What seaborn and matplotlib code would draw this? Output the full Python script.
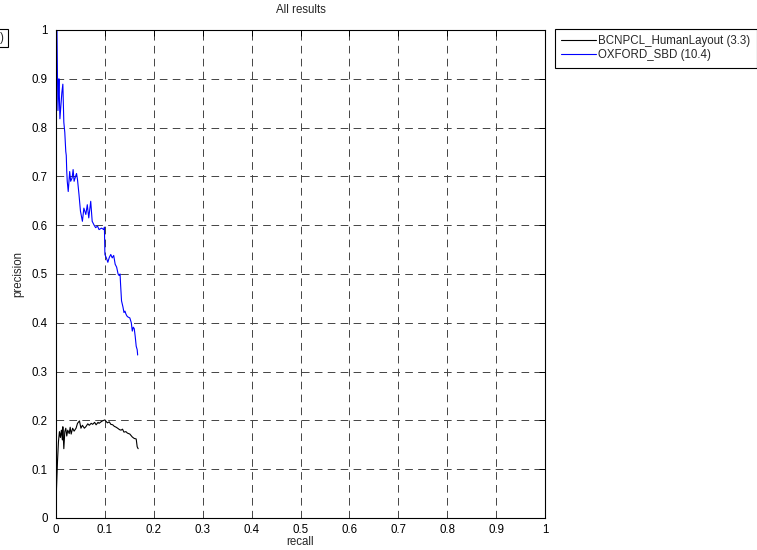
import pandas as pd
import seaborn as sns
import matplotlib.pyplot as plt
from matplotlib.patches import Rectangle
from matplotlib.ticker import FormatStrFormatter, MultipleLocator

# precision / recall points
bcn_recall = [0.000, 0.001, 0.003, 0.005, 0.007, 0.009, 0.011, 0.013, 0.014, 0.016,
              0.018, 0.020, 0.022, 0.024, 0.027, 0.029, 0.031, 0.034, 0.037, 0.041,
              0.044, 0.048, 0.051, 0.054, 0.058, 0.061, 0.065, 0.068, 0.072, 0.075,
              0.079, 0.082, 0.086, 0.088, 0.092, 0.095, 0.100, 0.105, 0.109, 0.112,
              0.116, 0.119, 0.123, 0.126, 0.130, 0.133, 0.136, 0.139, 0.143, 0.146,
              0.151, 0.156, 0.160, 0.164, 0.166, 0.168]
bcn_precision = [0.000, 0.060, 0.115, 0.156, 0.177, 0.165, 0.180, 0.160, 0.187, 0.142,
                 0.177, 0.184, 0.168, 0.180, 0.173, 0.186, 0.172, 0.184, 0.178, 0.184,
                 0.194, 0.199, 0.184, 0.190, 0.184, 0.187, 0.193, 0.190, 0.194, 0.192,
                 0.196, 0.191, 0.196, 0.194, 0.197, 0.199, 0.201, 0.195, 0.197, 0.192,
                 0.191, 0.188, 0.186, 0.184, 0.181, 0.180, 0.182, 0.176, 0.177, 0.174,
                 0.172, 0.166, 0.163, 0.162, 0.146, 0.142]

oxf_recall = [0.000, 0.002, 0.003, 0.004, 0.006, 0.007, 0.008, 0.010, 0.012, 0.014,
              0.015, 0.016, 0.018, 0.019, 0.020, 0.021, 0.022, 0.023, 0.025, 0.028,
              0.030, 0.033, 0.035, 0.037, 0.040, 0.042, 0.044, 0.047, 0.050, 0.054,
              0.057, 0.061, 0.064, 0.067, 0.071, 0.074, 0.078, 0.081, 0.085, 0.088,
              0.093, 0.098, 0.099, 0.100, 0.103, 0.106, 0.109, 0.112, 0.115, 0.118,
              0.121, 0.124, 0.127, 0.129, 0.131, 0.132, 0.134, 0.137, 0.139, 0.141,
              0.143, 0.145, 0.147, 0.151, 0.154, 0.156, 0.158, 0.160, 0.162, 0.164,
              0.166, 0.167]
oxf_precision = [1.000, 1.000, 0.906, 0.835, 0.900, 0.860, 0.818, 0.845, 0.872, 0.889,
                 0.850, 0.811, 0.790, 0.770, 0.751, 0.743, 0.710, 0.690, 0.669, 0.710,
                 0.690, 0.697, 0.714, 0.690, 0.700, 0.706, 0.693, 0.663, 0.629, 0.608,
                 0.635, 0.622, 0.642, 0.615, 0.649, 0.608, 0.600, 0.595, 0.598, 0.591,
                 0.594, 0.591, 0.596, 0.540, 0.533, 0.524, 0.534, 0.540, 0.533, 0.538,
                 0.520, 0.514, 0.500, 0.497, 0.500, 0.480, 0.445, 0.432, 0.421, 0.424,
                 0.418, 0.414, 0.412, 0.410, 0.400, 0.383, 0.391, 0.388, 0.372, 0.352,
                 0.345, 0.334]

labels = ["BCNPCL_HumanLayout (3.3)", "OXFORD_SBD (10.4)"]

sns.set_style("white")
plt.rcParams["font.family"] = ["Liberation Sans", "DejaVu Sans"]
plt.rcParams["lines.scale_dashes"] = False

fig = plt.figure(figsize=(7.57, 5.5), dpi=100)
ax = fig.add_axes([56 / 757, 32 / 550, 489 / 757, 488 / 550])

sns.lineplot(x=bcn_recall, y=bcn_precision, sort=False, estimator=None,
             color="black", linewidth=0.8, label=labels[0], ax=ax)
sns.lineplot(x=oxf_recall, y=oxf_precision, sort=False, estimator=None,
             color="#0000ff", linewidth=0.8, label=labels[1], ax=ax)

ax.set_xlim(0, 1)
ax.set_ylim(0, 1)
ax.xaxis.set_major_locator(MultipleLocator(0.1))
ax.yaxis.set_major_locator(MultipleLocator(0.1))
ax.xaxis.set_major_formatter(FormatStrFormatter("%g"))
ax.yaxis.set_major_formatter(FormatStrFormatter("%g"))

# matlab style dashed grid and inward ticks on all sides
ax.grid(True, color="#444444", linestyle=(0, (5.5, 3.8)), linewidth=0.7)
ax.tick_params(direction="in", length=4, width=0.7, top=True, right=True,
               labelsize=8.3, colors="black")
ax.tick_params(axis="x", pad=4)
ax.tick_params(axis="y", pad=6)
for s in ax.spines.values():
    s.set_visible(True)
    s.set_color("black")
    s.set_linewidth(0.8)

ax.set_title("All results", fontsize=8.3, pad=12)
ax.set_xlabel("recall", fontsize=8.3, labelpad=0)
ax.set_ylabel("precision", fontsize=8.3, labelpad=5)

leg = ax.legend(loc="upper left", bbox_to_anchor=(555 / 757, 1 - 29 / 550),
                bbox_transform=fig.transFigure, fontsize=8.3, frameon=True,
                fancybox=False, framealpha=1, edgecolor="black",
                handlelength=3.0, handletextpad=0.2, borderpad=0.55,
                labelspacing=0.16, borderaxespad=0)
leg.get_frame().set_linewidth(0.8)

# clipped box of another legend at the far left
fig.patches.append(Rectangle((-0.02, 1 - 47 / 550), 0.031, 18 / 550,
                             transform=fig.transFigure, fill=False,
                             edgecolor="black", linewidth=0.8))
fig.text(0.0, 1 - 38 / 550, ")", fontsize=8.3, va="center", ha="left")

fig.savefig("out.png", dpi=100)
